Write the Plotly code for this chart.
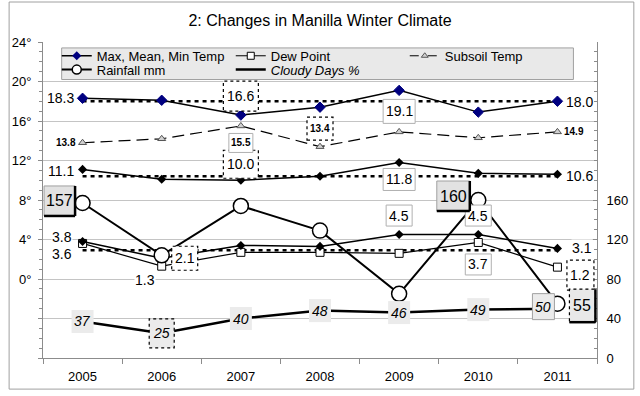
import plotly.graph_objects as go

# ---------------- data ----------------
years = ["2005", "2006", "2007", "2008", "2009", "2010", "2011"]
max_temp = [18.3, 18.1, 16.6, 17.4, 19.1, 16.9, 18.0]
mean_temp = [11.1, 10.1, 10.0, 10.4, 11.8, 10.7, 10.6]
min_temp = [3.8, 2.1, 3.4, 3.3, 4.5, 4.5, 3.1]
dew_point = [3.6, 1.3, 2.7, 2.7, 2.6, 3.7, 1.2]
subsoil_temp = [13.8, 14.2, 15.5, 13.4, 14.9, 14.3, 14.9]
rainfall_mm = [157, 104, 154, 129, 65, 160, 55]
cloudy_pct = [37, 25, 40, 48, 46, 49, 50]
longterm_max = 18.0
longterm_mean = 10.4
longterm_min = 2.9

left_tick_vals = [-8, -4, 0, 4, 8, 12, 16, 20, 24]
left_tick_text = ["", "", "0°", "4°", "8°", "12°", "16°", "20°", "24°"]
right_tick_vals = [0, 40, 80, 120, 160]

FONT = "Liberation Sans, Arial, sans-serif"

# plot area in pixels
W, H = 640, 396
ML, MR, MT, MB = 36, 40, 42, 34
PW, PH = W - ML - MR, H - MT - MB


def px2paper_x(px):
    return (px - ML) / PW


def px2paper_y(py):
    return (H - MB - py) / PH


fig = go.Figure()

# ---------------- legend-only entries ----------------
def legend_entry(name, rank, legend, line, marker=None, mode="lines+markers"):
    fig.add_trace(go.Scatter(x=[None], y=[None], name=name, mode=mode, line=line,
                             marker=marker or {}, legendrank=rank, legend=legend,
                             hoverinfo="skip"))

legend_entry("Max, Mean, Min Temp", 1, "legend", dict(color="black", width=1.5),
             dict(symbol="diamond", size=7, color="#000080"))
legend_entry("Dew Point", 2, "legend", dict(color="black", width=1),
             dict(symbol="square", size=7, color="white", line=dict(color="black", width=1)))
legend_entry("Subsoil Temp", 3, "legend", dict(color="black", width=1, dash="dash"),
             dict(symbol="triangle-up", size=6, color="#d0d0d0", line=dict(color="#555", width=1)))
legend_entry("Rainfall mm", 4, "legend2", dict(color="black", width=2),
             dict(symbol="circle", size=9, color="white", line=dict(color="black", width=1.5)))
legend_entry("<i>Cloudy Days %</i>", 5, "legend2", dict(color="black", width=2.5), mode="lines")

# ---------------- data traces ----------------
def avg_line(v):
    fig.add_trace(go.Scatter(x=[years[0], years[-1]], y=[v, v], mode="lines",
                             line=dict(color="black", width=2.5, dash="4px,4px"),
                             showlegend=False, hoverinfo="skip"))

avg_line(longterm_max)
avg_line(longterm_mean)
avg_line(longterm_min)

fig.add_trace(go.Scatter(x=years, y=subsoil_temp, mode="lines+markers", showlegend=False,
                         line=dict(color="black", width=1.2, dash="12px,6px"),
                         marker=dict(symbol="triangle-up", size=7, color="#d0d0d0",
                                     line=dict(color="#555", width=1))))
fig.add_trace(go.Scatter(x=years, y=dew_point, mode="lines+markers", showlegend=False,
                         line=dict(color="black", width=1.2),
                         marker=dict(symbol="square", size=8, color="white",
                                     line=dict(color="black", width=1))))
fig.add_trace(go.Scatter(x=years, y=min_temp, mode="lines+markers", showlegend=False,
                         line=dict(color="black", width=1.5),
                         marker=dict(symbol="diamond", size=7, color="black")))
fig.add_trace(go.Scatter(x=years, y=mean_temp, mode="lines+markers", showlegend=False,
                         line=dict(color="black", width=1.5),
                         marker=dict(symbol="diamond", size=7, color="black")))
fig.add_trace(go.Scatter(x=years, y=max_temp, mode="lines+markers", showlegend=False,
                         line=dict(color="black", width=1.5),
                         marker=dict(symbol="diamond", size=8, color="#000080",
                                     line=dict(color="#000080", width=1))))
fig.add_trace(go.Scatter(x=years, y=cloudy_pct, yaxis="y2", mode="lines", showlegend=False,
                         line=dict(color="black", width=2.5)))
fig.add_trace(go.Scatter(x=years, y=rainfall_mm, yaxis="y2", mode="lines+markers", showlegend=False,
                         line=dict(color="black", width=2),
                         marker=dict(symbol="circle", size=15, color="white",
                                     line=dict(color="black", width=1.5))))

# ---------------- labels ----------------
shapes = []
annotations = []

# legend background box
shapes.append(dict(type="rect", xref="paper", yref="paper",
                   x0=px2paper_x(55), x1=px2paper_x(576),
                   y0=px2paper_y(80), y1=px2paper_y(48),
                   fillcolor="#e9e9e9", line=dict(color="#a0a0a0", width=1), layer="above"))


def pix_rect(i, yv, yref, dx, dy, w, h, **kw):
    d = dict(type="rect", xref="x", yref=yref, xsizemode="pixel", ysizemode="pixel",
             xanchor=i, yanchor=yv, x0=dx - w / 2, x1=dx + w / 2,
             y0=dy - h / 2, y1=dy + h / 2, layer="above")
    d.update(kw)
    shapes.append(d)


def pix_line(i, yv, yref, x0, y0, x1, y1, **kw):
    d = dict(type="line", xref="x", yref=yref, xsizemode="pixel", ysizemode="pixel",
             xanchor=i, yanchor=yv, x0=x0, x1=x1, y0=y0, y1=y1, layer="above")
    d.update(kw)
    shapes.append(d)


def label(series, i, dx, dy, style="plain", w=28, h=22, size=14, bold=False,
          italic=False, yref="y", fmt="{:.1f}"):
    yv = series[i]
    txt = fmt.format(yv)
    if bold:
        txt = "<b>" + txt + "</b>"
    if italic:
        txt = "<i>" + txt + "</i>"
    bg = None
    if style == "plain":
        bg = "white"
    elif style == "high":
        pix_rect(i, yv, yref, dx, dy, w, h, fillcolor="white",
                 line=dict(color="#b0b0b0", width=1))
    elif style == "low":
        pix_rect(i, yv, yref, dx, dy, w, h, fillcolor="white",
                 line=dict(color="black", width=1.2, dash="dot"))
    elif style == "cloud":
        pix_rect(i, yv, yref, dx, dy, w, h, fillcolor="#ebebeb", line=dict(width=0))
    elif style == "cloud_low":
        pix_rect(i, yv, yref, dx, dy, w, h, fillcolor="#ebebeb",
                 line=dict(color="black", width=1.2, dash="dot"))
    elif style == "cloud_high":
        pix_rect(i, yv, yref, dx, dy, w, h, fillcolor="#ebebeb",
                 line=dict(color="#a0a0a0", width=1))
    elif style in ("rain_high", "rain_low"):
        if style == "rain_high":
            pix_rect(i, yv, yref, dx, dy, w, h, fillcolor="#e2e2e2",
                     line=dict(color="#a0a0a0", width=1))
        else:
            pix_rect(i, yv, yref, dx, dy, w, h, fillcolor="#e8e8e8",
                     line=dict(color="black", width=1.2, dash="dot"))
        r, b = dx + w / 2, dy - h / 2
        pix_line(i, yv, yref, r, dy + h / 2, r, b, line=dict(color="black", width=2.5))
        pix_line(i, yv, yref, dx - w / 2, b, r, b, line=dict(color="black", width=2.5))
    a = dict(x=i, y=yv, yref=yref, xref="x", text=txt, showarrow=False,
             xshift=dx, yshift=dy, font=dict(family=FONT, size=size, color="black"),
             borderpad=0)
    if bg:
        a["bgcolor"] = bg
    annotations.append(a)


# max temp
label(max_temp, 0, -22, 0)
label(max_temp, 2, 0, 19, "low", 35, 30)
label(max_temp, 4, 0, -21, "high", 32, 24)
label(max_temp, 6, 22, -1)
# mean temp
label(mean_temp, 0, -22, -2)
label(mean_temp, 2, 0, 16, "low", 35, 28)
label(mean_temp, 4, 0, -17, "high", 32, 22)
label(mean_temp, 6, 22, -2)
# min temp
label(min_temp, 0, -21, 4)
label(min_temp, 1, 23, 0, "low", 26, 24)
label(min_temp, 4, 0, 19, "high", 26, 21)
label(min_temp, 5, 0, 19, "high", 26, 21)
label(min_temp, 6, 25, 0)
# dew point
label(dew_point, 0, -21, -11)
label(dew_point, 1, -17, -14)
label(dew_point, 5, 0, -22, "high", 26, 21)
label(dew_point, 6, 23, -8, "low", 27, 30)
# subsoil
label(subsoil_temp, 0, -17, 0, size=10, bold=True)
label(subsoil_temp, 2, 0, -17, "high", 24, 19, size=10, bold=True)
label(subsoil_temp, 3, 0, 18, "low", 26, 23, size=10, bold=True)
label(subsoil_temp, 6, 17, 0, size=10, bold=True)
# rainfall
label(rainfall_mm, 0, -23, 2, "rain_high", 31, 30, size=16, yref="y2", fmt="{:.0f}")
label(rainfall_mm, 5, -25, 4, "rain_high", 33, 30, size=16, yref="y2", fmt="{:.0f}")
label(rainfall_mm, 6, 25, -2, "rain_low", 26, 33, size=16, yref="y2", fmt="{:.0f}")
# cloudy days
for i in range(6):
    style = "cloud_low" if i == 1 else "cloud"
    wh = (25, 29) if i == 1 else (22, 23)
    label(cloudy_pct, i, 0, 0, style, wh[0], wh[1], size=14, italic=True, yref="y2", fmt="{:.0f}")
label(cloudy_pct, 6, -14, 2, "cloud_high", 22, 26, size=14, italic=True, yref="y2", fmt="{:.0f}")

# outer chart border (paper coords extend beyond plot area)
shapes.append(dict(type="rect", xref="paper", yref="paper",
                   x0=px2paper_x(1.5), x1=px2paper_x(637.5),
                   y0=px2paper_y(393.5), y1=px2paper_y(1.5),
                   line=dict(color="#a0a0a0", width=1), layer="below"))

legend_common = dict(orientation="h", xanchor="left", yanchor="middle",
                     bgcolor="rgba(0,0,0,0)", borderwidth=0,
                     font=dict(family=FONT, size=13, color="black"), entrywidth=129,
                     itemsizing="trace", traceorder="normal")

AX = "#8c8c8c"
fig.update_layout(
    width=W, height=H,
    margin=dict(l=ML, r=MR, t=MT, b=MB, pad=0),
    paper_bgcolor="white", plot_bgcolor="white",
    font=dict(family=FONT, size=13, color="black"),
    title=dict(text="2: Changes in Manilla Winter Climate", x=0.5, xref="paper",
               xanchor="center", y=1 - 20 / H, yanchor="middle",
               font=dict(family=FONT, size=16, color="black")),
    showlegend=True,
    legend=dict(x=px2paper_x(50), y=px2paper_y(56), **legend_common),
    legend2=dict(x=px2paper_x(50), y=px2paper_y(70), **legend_common),
    xaxis=dict(type="category", categoryorder="array", categoryarray=years,
               range=[-0.5, 6.5], tickson="boundaries", ticks="outside", ticklen=5,
               tickcolor=AX, showline=True, linecolor=AX, linewidth=1, showgrid=False,
               zeroline=False, ticklabelstandoff=6, tickfont=dict(family=FONT, size=13)),
    yaxis=dict(range=[-8, 24], tickmode="array", tickvals=left_tick_vals,
               ticktext=left_tick_text, showgrid=True, gridcolor="#c4c4c4", gridwidth=1,
               zeroline=False, showline=True, linecolor=AX, ticks="outside", ticklen=4,
               tickcolor=AX, ticklabelstandoff=4, tickfont=dict(family=FONT, size=13),
               minor=dict(tickmode="linear", tick0=0, dtick=1, ticks="outside", ticklen=3,
                          tickcolor=AX, showgrid=False)),
    yaxis2=dict(range=[0, 320], overlaying="y", side="right", tickmode="array",
                tickvals=right_tick_vals, showgrid=False, zeroline=False, showline=True,
                linecolor=AX, ticks="inside", ticklen=4, tickcolor=AX,
                ticklabelstandoff=6, tickfont=dict(family=FONT, size=13),
                minor=dict(tickmode="linear", tick0=0, dtick=10, ticks="inside",
                           ticklen=3, tickcolor=AX, showgrid=False)),
    shapes=shapes,
    annotations=annotations,
)

fig.write_html("out.html", config={"displayModeBar": False},
               post_script="document.body.style.margin='0';")
